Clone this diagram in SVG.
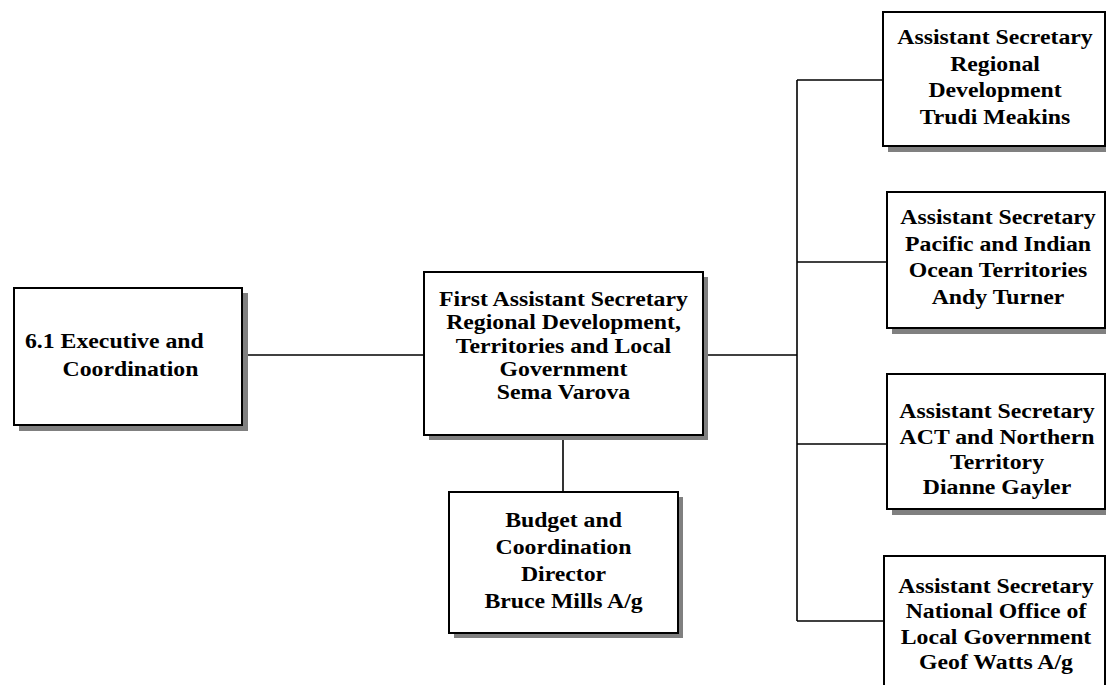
<svg xmlns="http://www.w3.org/2000/svg" width="1106" height="685" viewBox="0 0 1106 685">
<style>
.sh{fill:#808080;}
.bx{fill:#fff;stroke:#000;stroke-width:2;}
.t{font-family:"Liberation Serif","Times New Roman",serif;font-weight:bold;font-size:22px;fill:#000;text-anchor:middle;}
.c{stroke:#000;stroke-width:1.6;fill:none;}
</style>
<rect width="1106" height="685" fill="#fff"/>
<g id="connectors">
<line class="c" x1="242" y1="355" x2="424" y2="355"/>
<line class="c" x1="703" y1="355" x2="797" y2="355"/>
<line class="c" x1="563" y1="435" x2="563" y2="492"/>
<line class="c" x1="797" y1="80" x2="797" y2="621"/>
<line class="c" x1="797" y1="80" x2="883" y2="80"/>
<line class="c" x1="797" y1="262" x2="887" y2="262"/>
<line class="c" x1="797" y1="444" x2="887" y2="444"/>
<line class="c" x1="797" y1="621" x2="884" y2="621"/>
</g>
<g id="exec">
<rect class="sh" x="19" y="293" width="229" height="138"/>
<rect class="bx" x="14" y="288" width="228" height="137"/>
<g transform="translate(25 0) scale(1.08 1)">
<text class="t" x="0" y="348" style="text-anchor:start">6.1 Executive and</text>
<text class="t" x="97.7" y="376">Coordination</text>
</g>
</g>
<g id="fas">
<rect class="sh" x="429" y="277" width="279" height="163"/>
<rect class="bx" x="424" y="272" width="279" height="163"/>
<g transform="translate(563.5 0) scale(1.08 1)">
<text class="t" x="0" y="306">First Assistant Secretary</text>
<text class="t" x="0" y="329">Regional Development,</text>
<text class="t" x="0" y="353">Territories and Local</text>
<text class="t" x="0" y="376">Government</text>
<text class="t" x="0" y="399">Sema Varova</text>
</g>
</g>
<g id="budget">
<rect class="sh" x="454" y="497" width="229" height="141"/>
<rect class="bx" x="449" y="492" width="229" height="141"/>
<g transform="translate(563.5 0) scale(1.08 1)">
<text class="t" x="0" y="527">Budget and</text>
<text class="t" x="0" y="554">Coordination</text>
<text class="t" x="0" y="581">Director</text>
<text class="t" x="0" y="608">Bruce Mills A/g</text>
</g>
</g>
<g id="as-regional">
<rect class="sh" x="888" y="17" width="222" height="135"/>
<rect class="bx" x="883" y="12" width="222" height="134"/>
<g transform="translate(995 0) scale(1.08 1)">
<text class="t" x="0" y="44">Assistant Secretary</text>
<text class="t" x="0" y="71">Regional</text>
<text class="t" x="0" y="97">Development</text>
<text class="t" x="0" y="124">Trudi Meakins</text>
</g>
</g>
<g id="as-pacific">
<rect class="sh" x="892" y="197" width="222" height="137"/>
<rect class="bx" x="887" y="192" width="218" height="136"/>
<g transform="translate(998 0) scale(1.08 1)">
<text class="t" x="0" y="224">Assistant Secretary</text>
<text class="t" x="0" y="251">Pacific and Indian</text>
<text class="t" x="0" y="277">Ocean Territories</text>
<text class="t" x="0" y="304">Andy Turner</text>
</g>
</g>
<g id="as-act">
<rect class="sh" x="892" y="379" width="222" height="136"/>
<rect class="bx" x="887" y="374" width="218" height="135"/>
<g transform="translate(997 0) scale(1.08 1)">
<text class="t" x="0" y="418">Assistant Secretary</text>
<text class="t" x="0" y="444">ACT and Northern</text>
<text class="t" x="0" y="469">Territory</text>
<text class="t" x="0" y="494">Dianne Gayler</text>
</g>
</g>
<g id="as-nolg">
<rect class="sh" x="889" y="561" width="222" height="140"/>
<rect class="bx" x="884" y="556" width="221" height="140"/>
<g transform="translate(996 0) scale(1.08 1)">
<text class="t" x="0" y="593">Assistant Secretary</text>
<text class="t" x="0" y="618">National Office of</text>
<text class="t" x="0" y="644">Local Government</text>
<text class="t" x="0" y="669">Geof Watts A/g</text>
</g>
</g>
</svg>
